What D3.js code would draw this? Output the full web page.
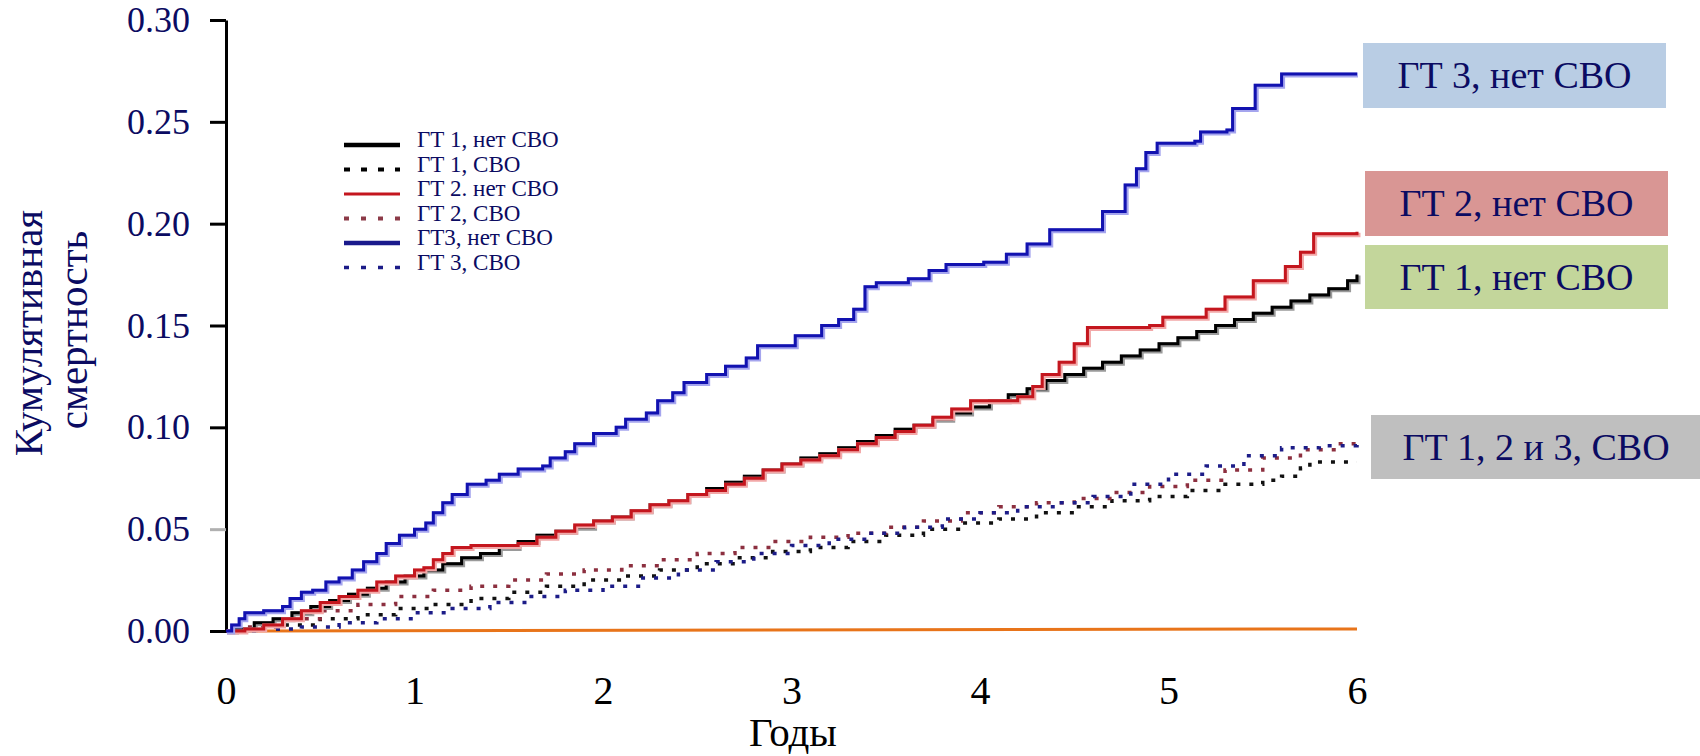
<!DOCTYPE html>
<html lang="ru">
<head>
  <meta charset="UTF-8">
  <title>Кумулятивная смертность</title>
  <script src="https://d3js.org/d3.v7.min.js"></script>
  <style>
    body { margin: 0; background: #fff; }
    svg { display: block; font-family: "Liberation Serif", "Times New Roman", serif; }
  </style>
</head>
<body>
  <div id="chart"></div>

  <script>
    // step curves, years -> cumulative mortality
    const gt1NoT = [0, 0.05, 0.15, 0.25, 0.35, 0.45, 0.55, 0.65, 0.75, 0.85, 0.95, 1.05, 1.15, 1.25, 1.35, 1.45, 1.55, 1.65, 1.75, 1.85, 1.95, 2.05, 2.15, 2.25, 2.35, 2.45, 2.55, 2.65, 2.75, 2.85, 2.95, 3.05, 3.15, 3.25, 3.35, 3.45, 3.55, 3.65, 3.75, 3.85, 3.95, 4.05, 4.15, 4.25, 4.35, 4.45, 4.55, 4.65, 4.75, 4.85, 4.95, 5.05, 5.15, 5.25, 5.35, 5.45, 5.55, 5.65, 5.75, 5.85, 5.95, 6.0];
    const gt1NoV = [0, 0.001, 0.004, 0.006, 0.009, 0.012, 0.015, 0.018, 0.021, 0.024, 0.027, 0.030, 0.033, 0.036, 0.038, 0.041, 0.044, 0.047, 0.049, 0.051, 0.054, 0.056, 0.059, 0.062, 0.064, 0.067, 0.070, 0.073, 0.076, 0.079, 0.082, 0.085, 0.087, 0.090, 0.093, 0.096, 0.099, 0.101, 0.104, 0.107, 0.110, 0.113, 0.116, 0.119, 0.123, 0.126, 0.129, 0.132, 0.135, 0.138, 0.141, 0.144, 0.147, 0.150, 0.153, 0.156, 0.159, 0.162, 0.165, 0.168, 0.172, 0.175];

    const gt2NoT = [0, 0.1, 0.2, 0.3, 0.4, 0.5, 0.6, 0.7, 0.8, 0.9, 1.0, 1.05, 1.1, 1.15, 1.2, 1.3, 1.55, 1.65, 1.75, 1.85, 1.95, 2.05, 2.15, 2.25, 2.35, 2.45, 2.55, 2.65, 2.75, 2.85, 2.95, 3.05, 3.15, 3.25, 3.35, 3.45, 3.55, 3.65, 3.75, 3.85, 3.95, 4.2, 4.28, 4.33, 4.42, 4.5, 4.57, 4.9, 4.97, 5.2, 5.3, 5.45, 5.62, 5.7, 5.77, 6.0];
    const gt2NoV = [0, 0.001, 0.003, 0.006, 0.010, 0.014, 0.017, 0.020, 0.024, 0.027, 0.030, 0.031, 0.035, 0.038, 0.041, 0.042, 0.043, 0.046, 0.049, 0.052, 0.054, 0.056, 0.059, 0.062, 0.064, 0.067, 0.069, 0.072, 0.075, 0.079, 0.082, 0.084, 0.086, 0.089, 0.092, 0.095, 0.098, 0.101, 0.105, 0.109, 0.113, 0.115, 0.120, 0.126, 0.132, 0.141, 0.149, 0.150, 0.154, 0.158, 0.164, 0.172, 0.179, 0.186, 0.195, 0.196];

    const gt3NoT = [0, 0.03, 0.07, 0.1, 0.2, 0.3, 0.34, 0.4, 0.46, 0.53, 0.6, 0.67, 0.73, 0.8, 0.85, 0.92, 1.0, 1.06, 1.1, 1.15, 1.2, 1.28, 1.38, 1.45, 1.55, 1.68, 1.72, 1.8, 1.85, 1.95, 2.07, 2.12, 2.23, 2.29, 2.37, 2.43, 2.55, 2.65, 2.76, 2.82, 3.02, 3.16, 3.25, 3.33, 3.39, 3.45, 3.62, 3.73, 3.82, 4.02, 4.14, 4.25, 4.37, 4.62, 4.65, 4.77, 4.83, 4.88, 4.94, 5.14, 5.17, 5.31, 5.34, 5.46, 5.6, 6.0];
    const gt3NoV = [0, 0.003, 0.006, 0.009, 0.010, 0.012, 0.016, 0.019, 0.020, 0.024, 0.026, 0.030, 0.034, 0.038, 0.043, 0.047, 0.050, 0.053, 0.058, 0.063, 0.067, 0.072, 0.074, 0.077, 0.0795, 0.081, 0.085, 0.088, 0.092, 0.097, 0.100, 0.104, 0.107, 0.113, 0.117, 0.122, 0.126, 0.130, 0.134, 0.140, 0.145, 0.150, 0.153, 0.158, 0.169, 0.171, 0.173, 0.177, 0.180, 0.181, 0.185, 0.190, 0.197, 0.197, 0.206, 0.219, 0.227, 0.235, 0.2395, 0.2405, 0.245, 0.246, 0.2565, 0.268, 0.2735, 0.2735];

    const gt1CaT = [0, 0.1, 0.3, 0.5, 0.7, 0.9, 1.1, 1.3, 1.5, 1.7, 1.9, 2.1, 2.3, 2.5, 2.7, 2.9, 3.1, 3.3, 3.5, 3.7, 3.9, 4.1, 4.3, 4.5, 4.7, 4.9, 5.1, 5.3, 5.5, 5.6, 5.7, 5.75, 6.0];
    const gt1CaV = [0, 0.001, 0.003, 0.006, 0.008, 0.011, 0.013, 0.016, 0.019, 0.022, 0.025, 0.027, 0.030, 0.033, 0.036, 0.039, 0.041, 0.044, 0.047, 0.050, 0.053, 0.055, 0.058, 0.061, 0.064, 0.066, 0.069, 0.072, 0.074, 0.076, 0.080, 0.083, 0.083];

    const gt2CaT = [0, 0.1, 0.3, 0.5, 0.7, 0.9, 1.1, 1.3, 1.5, 1.7, 1.9, 2.1, 2.3, 2.5, 2.7, 2.9, 3.1, 3.3, 3.5, 3.7, 3.9, 4.1, 4.3, 4.5, 4.7, 4.9, 5.1, 5.3, 5.5, 5.7, 5.9, 6.0];
    const gt2CaV = [0, 0.002, 0.006, 0.010, 0.013, 0.017, 0.020, 0.022, 0.025, 0.028, 0.030, 0.032, 0.035, 0.038, 0.041, 0.044, 0.046, 0.048, 0.051, 0.054, 0.058, 0.061, 0.063, 0.065, 0.068, 0.071, 0.074, 0.079, 0.085, 0.089, 0.092, 0.092];

    const gt3CaT = [0, 0.2, 0.4, 0.6, 0.8, 1.0, 1.2, 1.4, 1.6, 1.8, 2.0, 2.2, 2.4, 2.6, 2.8, 3.0, 3.2, 3.4, 3.6, 3.8, 4.0, 4.2, 4.4, 4.6, 4.8, 5.0, 5.2, 5.4, 5.6, 5.8, 5.95, 6.0];
    const gt3CaV = [0, 0.001, 0.002, 0.004, 0.006, 0.009, 0.011, 0.014, 0.017, 0.020, 0.022, 0.026, 0.030, 0.034, 0.038, 0.042, 0.045, 0.048, 0.051, 0.055, 0.058, 0.061, 0.063, 0.066, 0.072, 0.077, 0.081, 0.086, 0.090, 0.091, 0.091, 0.095];

    const refT = [0, 6];
    const refV = [0, 0.001];

    const yTicks = [0, 0.05, 0.10, 0.15, 0.20, 0.25, 0.30];
    const xTicks = [0, 1, 2, 3, 4, 5, 6];
    const legendNames = ["ГТ 1, нет СВО", "ГТ 1, СВО", "ГТ 2. нет СВО", "ГТ 2, СВО", "ГТ3, нет СВО", "ГТ 3, СВО"];
    const boxNames = ["ГТ 3, нет СВО", "ГТ 2, нет СВО", "ГТ 1, нет СВО", "ГТ 1, 2 и 3, СВО"];

    const navy = "#0b0b62";
    const width = 1700, height = 756;

    const svg = d3.select("#chart").append("svg")
      .attr("width", width)
      .attr("height", height);

    const x = d3.scaleLinear().domain([0, 6]).range([226, 1357]);
    const y = d3.scaleLinear().domain([0, 0.3]).range([631, 20]);

    const zip = (t, v) => t.map((d, i) => [d, v[i]]);
    const line = d3.line().x(d => x(d[0])).y(d => y(d[1])).curve(d3.curveStepAfter);

    // y axis
    const yAxis = svg.append("g")
      .attr("transform", "translate(226,0)")
      .call(d3.axisLeft(y).tickValues(yTicks).tickSize(16).tickSizeOuter(0)
        .tickPadding(20).tickFormat(d3.format(".2f")));
    yAxis.select(".domain").attr("stroke", "#000").attr("stroke-width", 3);
    yAxis.selectAll(".tick line").attr("stroke-width", 3)
      .attr("stroke", d => d === 0.05 ? "#b0b0b0" : "#000");
    yAxis.selectAll(".tick text")
      .attr("fill", navy)
      .attr("font-size", 36)
      .attr("font-family", "Liberation Serif, serif");

    // x labels only
    const xAxis = svg.append("g")
      .attr("transform", "translate(0,631)")
      .call(d3.axisBottom(x).tickValues(xTicks).tickSize(0).tickFormat(d3.format("d")));
    xAxis.select(".domain").remove();
    xAxis.selectAll(".tick text")
      .attr("y", 73).attr("dy", 0)
      .attr("fill", "#000")
      .attr("font-size", 40)
      .attr("font-family", "Liberation Serif, serif");

    svg.append("text")
      .attr("x", 793).attr("y", 746)
      .attr("text-anchor", "middle")
      .attr("font-size", 41)
      .text("Годы");

    svg.append("text")
      .attr("transform", "translate(42,333) rotate(-90)")
      .attr("text-anchor", "middle")
      .attr("font-size", 41)
      .attr("fill", navy)
      .text("Кумулятивная");
    svg.append("text")
      .attr("transform", "translate(87,330) rotate(-90)")
      .attr("text-anchor", "middle")
      .attr("font-size", 41)
      .attr("fill", navy)
      .text("смертность");

    // orange reference line
    svg.append("path")
      .datum(zip(refT, refV))
      .attr("fill", "none")
      .attr("stroke", "#e8741a")
      .attr("stroke-width", 3)
      .attr("d", d3.line().x(d => x(d[0])).y(d => y(d[1])));

    // dotted series
    const dotted = [
      { data: zip(gt1CaT, gt1CaV), color: "#111" },
      { data: zip(gt2CaT, gt2CaV), color: "#8c2f3f" },
      { data: zip(gt3CaT, gt3CaV), color: "#1c1c88" }
    ];
    dotted.forEach(s => {
      svg.append("path")
        .datum(s.data)
        .attr("fill", "none")
        .attr("stroke", s.color)
        .attr("stroke-width", 3.5)
        .attr("stroke-dasharray", "4,9")
        .attr("d", line);
    });

    // solid series, light halo then core
    const solid = [
      { data: zip(gt1NoT, gt1NoV), color: "#000", halo: "#9a9a9a" },
      { data: zip(gt2NoT, gt2NoV), color: "#c4161e", halo: "#f2a8a8" },
      { data: zip(gt3NoT, gt3NoV), color: "#1212b0", halo: "#a5a5ee" }
    ];
    solid.forEach(s => {
      svg.append("path").datum(s.data)
        .attr("fill", "none").attr("stroke", s.halo).attr("stroke-width", 5)
        .attr("transform", "translate(1,1)")
        .attr("d", line);
      svg.append("path").datum(s.data)
        .attr("fill", "none").attr("stroke", s.color).attr("stroke-width", 3)
        .attr("d", line);
    });

    // legend
    const legendStyle = [
      { color: "#000", w: 4.5, dash: null },
      { color: "#000", w: 4, dash: "6,11" },
      { color: "#c4161e", w: 3, dash: null },
      { color: "#8c3a48", w: 4, dash: "5,12" },
      { color: "#1a1a8c", w: 4.5, dash: null },
      { color: "#1c1c88", w: 3.5, dash: "5,12" }
    ];
    const legend = svg.append("g");
    legendNames.forEach((name, i) => {
      const ly = 145 + i * 24.5;
      const st = legendStyle[i];
      legend.append("line")
        .attr("x1", 344).attr("x2", 400)
        .attr("y1", ly).attr("y2", ly)
        .attr("stroke", st.color)
        .attr("stroke-width", st.w)
        .attr("stroke-dasharray", st.dash);
      legend.append("text")
        .attr("x", 417).attr("y", ly + 2)
        .attr("font-size", 23)
        .attr("fill", navy)
        .text(name);
    });

    // annotation boxes
    const boxes = [
      { x: 1363, y: 43, w: 303, h: 65, fill: "#b9cde4" },
      { x: 1365, y: 171, w: 303, h: 65, fill: "#d99694" },
      { x: 1365, y: 245, w: 303, h: 64, fill: "#c3d69b" },
      { x: 1371, y: 415, w: 329, h: 64, fill: "#bfbfbf" }
    ];
    boxNames.forEach((name, i) => {
      const b = boxes[i];
      svg.append("rect")
        .attr("x", b.x).attr("y", b.y)
        .attr("width", b.w).attr("height", b.h)
        .attr("fill", b.fill);
      svg.append("text")
        .attr("x", i === 3 ? 1536 : b.x + b.w / 2)
        .attr("y", b.y + 45)
        .attr("text-anchor", "middle")
        .attr("font-size", 38)
        .attr("fill", navy)
        .text(name);
    });
  </script>
</body>
</html>
